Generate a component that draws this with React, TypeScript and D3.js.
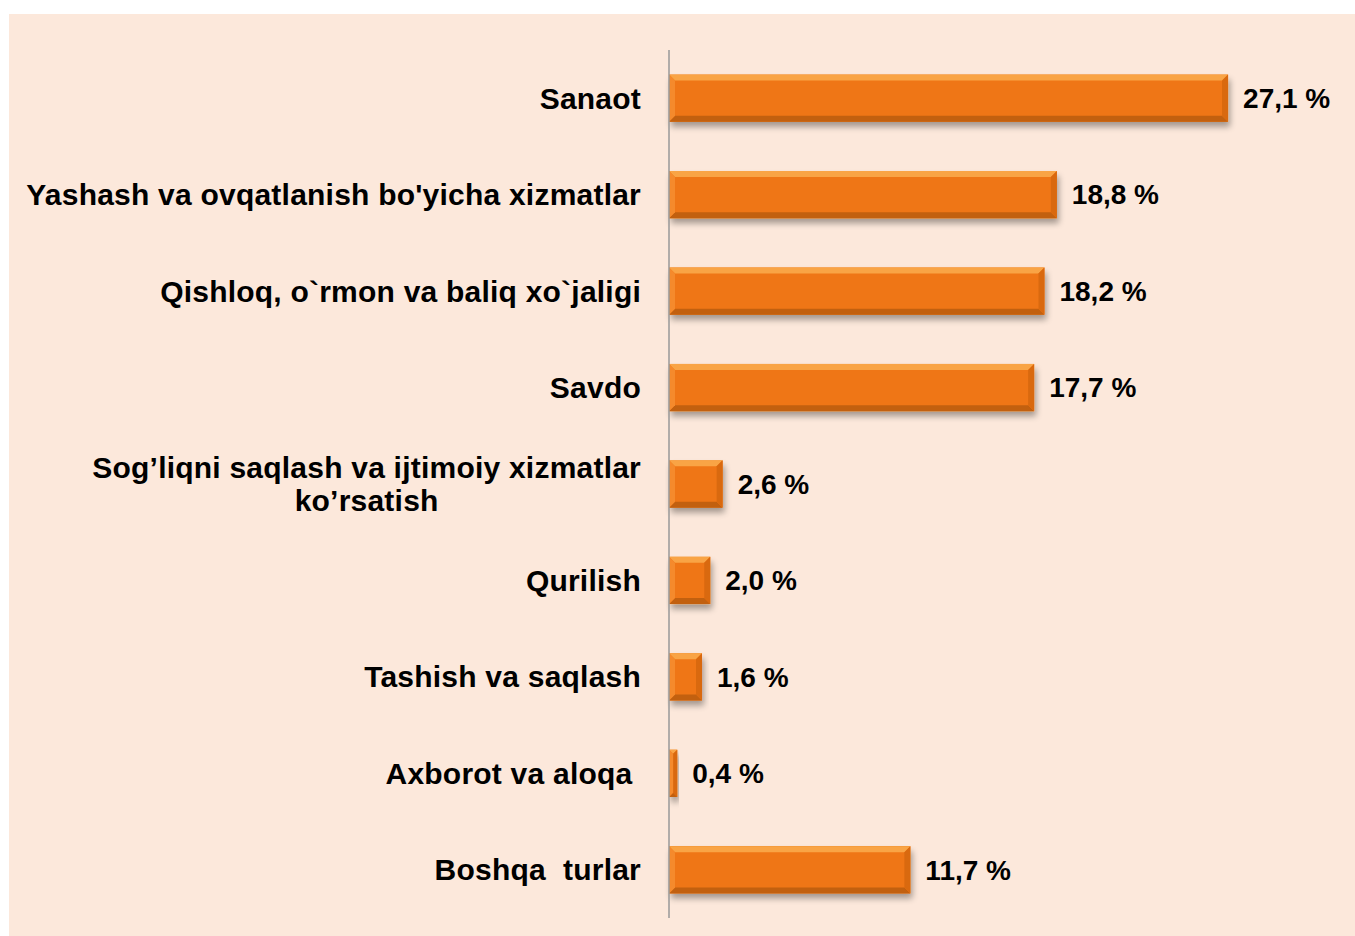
import React, { useEffect, useRef } from "react";
import * as d3 from "d3";

const categories = [
  "Sanaot",
  "Yashash va ovqatlanish bo'yicha xizmatlar",
  "Qishloq, o`rmon va baliq xo`jaligi",
  "Savdo",
  "Sog’liqni saqlash va ijtimoiy xizmatlar|ko’rsatish",
  "Qurilish",
  "Tashish va saqlash",
  "Axborot va aloqa ",
  "Boshqa  turlar",
];
const values = [27.1, 18.8, 18.2, 17.7, 2.6, 2.0, 1.6, 0.4, 11.7];
const xDomain = [0, 30];

const W = 1355;
const H = 936;

export default function App() {
  const ref = useRef<SVGSVGElement>(null);

  useEffect(() => {
    const svg = d3.select(ref.current);
    svg.selectAll("*").remove();

    const x = d3.scaleLinear().domain(xDomain).range([669, 669 + 30 * 20.63]);
    const y = d3
      .scaleBand()
      .domain(categories)
      .range([50, 918])
      .paddingInner(0.51)
      .paddingOuter(0.255);

    const defs = svg.append("defs");
    const f = defs.append("filter").attr("id", "shadow").attr("x", "-10%").attr("y", "-30%").attr("width", "130%").attr("height", "180%");
    f.append("feGaussianBlur").attr("in", "SourceAlpha").attr("stdDeviation", 3);
    f.append("feOffset").attr("dx", 2).attr("dy", 5).attr("result", "b");
    f.append("feComponentTransfer").append("feFuncA").attr("type", "linear").attr("slope", 0.35);
    const m = f.append("feMerge");
    m.append("feMergeNode");
    m.append("feMergeNode").attr("in", "SourceGraphic");

    // background
    svg.append("rect").attr("x", 9).attr("y", 14).attr("width", W - 9).attr("height", H - 14).attr("fill", "#fce8db");

    const font = "'Liberation Sans', Arial, sans-serif";

    // bars
    const g = svg.append("g");
    categories.forEach((c, i) => {
      const x0 = x(0), x1 = x(values[i]);
      const y0 = y(c)!, y1 = y0 + y.bandwidth();
      const b = Math.min(6, (x1 - x0) / 2);
      const bar = g.append("g");
      bar.append("rect").attr("x", x0).attr("y", y0).attr("width", x1 - x0).attr("height", y1 - y0)
        .attr("fill", "#ef7612").attr("filter", "url(#shadow)");
      const poly = (pts: number[][], fill: string) =>
        bar.append("polygon").attr("points", pts.map((p) => p.join(",")).join(" ")).attr("fill", fill);
      poly([[x0, y0], [x1, y0], [x1 - b, y0 + b], [x0 + b, y0 + b]], "#f9a445");
      poly([[x0, y1], [x1, y1], [x1 - b, y1 - b], [x0 + b, y1 - b]], "#c2600f");
      poly([[x1, y0], [x1, y1], [x1 - b, y1 - b], [x1 - b, y0 + b]], "#d9690f");
      poly([[x0, y0], [x0, y1], [x0 + b, y1 - b], [x0 + b, y0 + b]], "#f58a2c");

      svg.append("text")
        .attr("x", x1 + 15)
        .attr("y", y0 + y.bandwidth() / 2)
        .attr("dy", "0.35em")
        .attr("font-family", font)
        .attr("font-weight", "bold")
        .attr("font-size", 28)
        .attr("fill", "#000")
        .text(d3.format(".1f")(values[i]).replace(".", ",") + " %");
    });

    // axis line
    svg.append("line").attr("x1", 669).attr("x2", 669).attr("y1", 50).attr("y2", 918)
      .attr("stroke", "#999").attr("stroke-width", 1.5);

    // category labels
    categories.forEach((c) => {
      const lines = c.split("|");
      const cy = y(c)! + y.bandwidth() / 2;
      const t = svg.append("text")
        .attr("font-family", font)
        .attr("font-weight", "bold")
        .attr("font-size", 30)
        .attr("letter-spacing", 0.22)
        .attr("fill", "#000")
        .style("white-space", "pre");
      if (lines.length === 1) {
        t.attr("x", 641).attr("y", cy).attr("dy", "0.35em").attr("text-anchor", "end").text(c);
      } else {
        t.attr("text-anchor", "middle");
        const tmp = svg.append("text").attr("font-family", font).attr("font-weight", "bold")
          .attr("font-size", 30).attr("letter-spacing", 0.22).text(lines[0]);
        const w = (tmp.node() as SVGTextElement).getComputedTextLength();
        tmp.remove();
        const cx = 641 - w / 2;
        lines.forEach((l, k) => {
          t.append("tspan").attr("x", cx).attr("y", cy + (k - (lines.length - 1) / 2) * 33)
            .attr("dy", "0.35em").text(l);
        });
      }
    });
  }, []);

  return (
    <svg ref={ref} width={W} height={H} style={{ position: "absolute", left: 0, top: 0, background: "#fff" }} />
  );
}
